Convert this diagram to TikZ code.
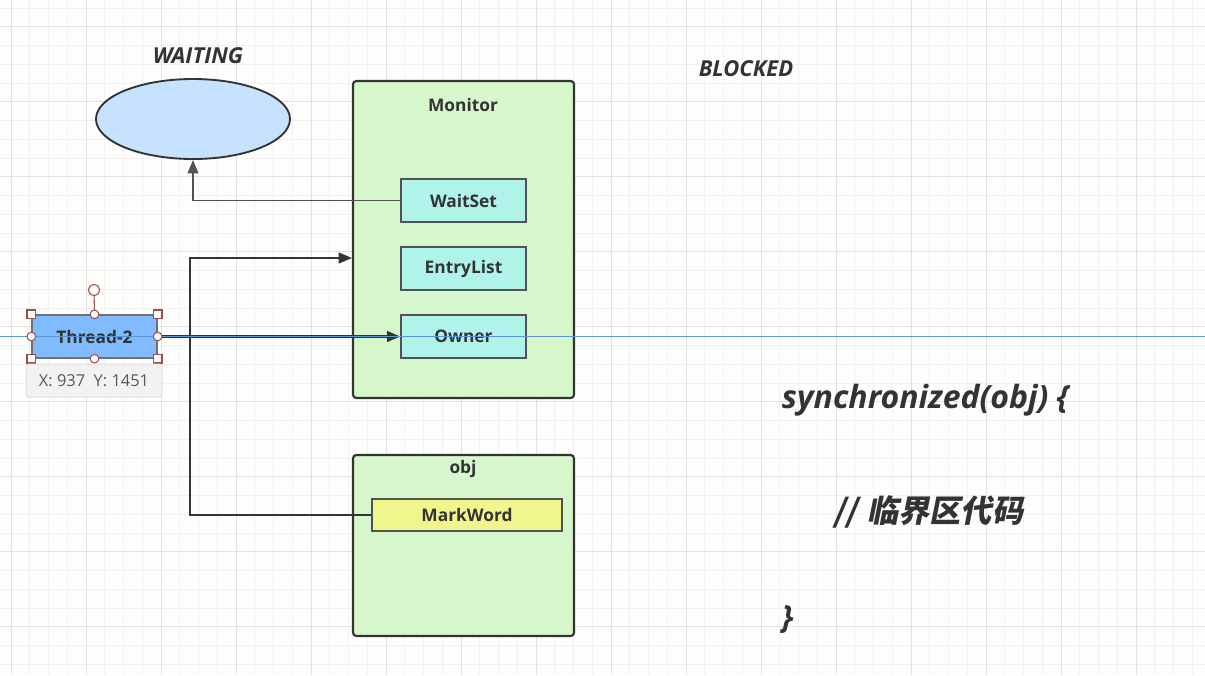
\documentclass[tikz,border=0pt]{standalone}
\usepackage{fontspec}
\setmainfont{Open Sans}
\newfontfamily\cjk[FakeSlant=0.2]{Noto Sans CJK SC}
\usetikzlibrary{shapes.geometric,arrows.meta,fit}

\definecolor{ink}{RGB}{51,51,51}
\definecolor{paper}{RGB}{254,254,252}
\definecolor{gridminor}{RGB}{244,240,240}
\definecolor{gridmajor}{RGB}{230,224,224}
\definecolor{monfill}{RGB}{214,247,204}
\definecolor{slotfill}{RGB}{176,243,235}
\definecolor{markfill}{RGB}{240,245,140}
\definecolor{waitfill}{RGB}{198,226,255}
\definecolor{threadfill}{RGB}{128,186,255}
\definecolor{handle}{RGB}{160,78,72}
\definecolor{guideblue}{RGB}{92,150,215}

\tikzset{every picture/.style={line width=0.75pt}}
\tikzset{
  minorgrid/.style={draw=gridminor, line width=0.6pt},
  majorgrid/.style={draw=gridmajor, line width=0.75pt},
  bigbox/.style={draw=ink, fill=monfill, line width=1.6pt, rounded corners=2.5pt, inner sep=0pt},
  slot/.style={draw=ink!85, fill=slotfill, line width=1pt, inner sep=0pt},
  boxtext/.style={text=ink, font=\fontsize{13}{15}\selectfont\bfseries},
  statetext/.style={text=ink, font=\fontsize{16.5}{19}\selectfont\bfseries\itshape},
  codetext/.style={text=ink, anchor=west, font=\fontsize{24}{28}\selectfont\bfseries\itshape},
  thinarrow/.style={draw=ink!85, line width=1pt, -{Triangle[length=10pt,width=8pt]}},
  thickarrow/.style={draw=ink, line width=1.7pt, -{Triangle[length=10pt,width=8pt]}},
  sqhandle/.style={draw=handle, fill=white, line width=0.8pt, minimum size=6.5pt, inner sep=0pt},
  rdhandle/.style={draw=handle, fill=white, line width=0.8pt, circle, minimum size=6.5pt, inner sep=0pt},
}

\begin{document}
\begin{tikzpicture}[x=0.75pt,y=0.75pt,yscale=-1,xscale=1]
	\useasboundingbox (0,0) rectangle (1205,675);
	\fill[paper] (0,0) rectangle (1205,675);

	% grid
	\foreach \i in {0,...,65} \draw[minorgrid] ({-7.75+18.75*\i},0) -- ({-7.75+18.75*\i},675);
	\foreach \j in {0,...,36} \draw[minorgrid] (0,{7.95+18.75*\j}) -- (1205,{7.95+18.75*\j});
	\foreach \i in {0,...,16} \draw[majorgrid] ({11+75*\i},0) -- ({11+75*\i},675);
	\foreach \j in {0,...,8} \draw[majorgrid] (0,{26.7+75*\j}) -- (1205,{26.7+75*\j});

	%Shape: Ellipse
	\node[ellipse, draw=ink, fill=waitfill, line width=1.4pt, minimum width=145.5pt, minimum height=60pt, inner sep=0pt] (waiting) at (193,119) {};
	% Text Node
	\node[statetext] (waitlbl) at (198,56) {WAITING};
	% Text Node
	\node[statetext] (blocklbl) at (746,69) {BLOCKED};

	%Shape: Monitor
	\node[bigbox, fit={(353,81) (574,398)}] (monitor) {};
	\node[boxtext] (montitle) at (463,105) {Monitor};
	\node[slot, fit={(401,179) (526,222)}] (waitset) {};
	\node[boxtext] at (waitset.center) {WaitSet};
	\node[slot, fit={(401,247) (526,290)}] (entrylist) {};
	\node[boxtext] at (entrylist.center) {EntryList};
	\node[slot, fit={(401,315) (526,358)}] (owner) {};
	\node[boxtext] at (owner.center) {Owner};

	%Shape: obj
	\node[bigbox, fit={(353,455) (574,636)}] (obj) {};
	\node[boxtext] (objtitle) at (463,469) {obj};
	\node[slot, fill=markfill, fit={(372,499) (562,531)}] (markword) {};
	\node[boxtext] at (markword.center) {MarkWord};

	%Shape: Thread-2
	\node[draw=ink!70, fill=threadfill, line width=1pt, inner sep=0pt, fit={(32,315) (157,358)}] (thread) {};
	\node[boxtext] at (thread.center) {Thread-2};

	%Straight Lines
	\draw[thinarrow] (waitset.west) -| (waiting.south);
	\coordinate (turn) at (190,515);
	\coordinate (monin) at (352,258);
	\draw[thickarrow] (markword.west) -- (turn) |- (monin);
	\draw[thickarrow] (thread.east) -- (owner.west);

	% guide line
	\draw[guideblue, line width=0.7pt] (0,336) -- (1205,336);

	% selection handles
	\coordinate (rot) at (94,290);
	\draw[handle, line width=0.8pt] (thread.north) -- (rot);
	\node[rdhandle, minimum size=8.5pt] at (rot) {};
	\foreach \c in {north west,north east,south west,south east}
		\node[sqhandle] at (thread.\c) {};
	\foreach \c in {north,south,east,west}
		\node[rdhandle] at (thread.\c) {};

	% tooltip
	\node[draw=gray!25, fill=gray!10, rounded corners=2pt, inner sep=0pt, fit={(26,364) (162,397)}] (tip) {};
	\node[text=gray!70!black, font=\fontsize{12.3}{14}\selectfont] at (tip.center) {X: 937\ \ Y: 1451};

	% Text Node
	\node[codetext] (syncopen) at (777,400) {synchronized(obj) \{};
	% Text Node
	\node[codetext, font=\fontsize{23.4}{27}\selectfont\cjk\bfseries] (critical) at (829,512) {//\hspace{0.3em}临界区代码};
	% Text Node
	\node[codetext] (syncclose) at (777,620) {\}};
\end{tikzpicture}
\end{document}
